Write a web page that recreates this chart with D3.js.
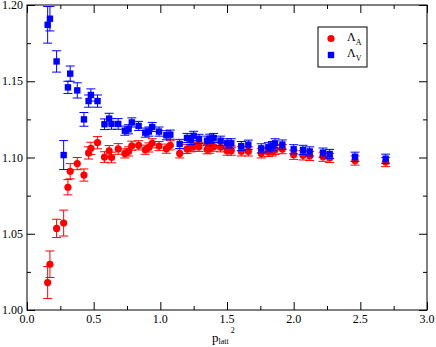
<!DOCTYPE html>
<html>
<head>
<meta charset="utf-8">
<script src="https://cdn.jsdelivr.net/npm/d3@7"></script>
<style>
  body { margin: 0; background: #fff; }
  svg { display: block; }
  text { font-family: "Liberation Serif", "DejaVu Serif", serif; fill: #000; }
</style>
</head>
<body>
<svg id="chart" width="436" height="347"></svg>
<script>
// p_latt^2 values (shared by both sets)
const p2 = [0.155, 0.172, 0.222, 0.275, 0.307, 0.324, 0.377, 0.427, 0.462, 0.479,
            0.529, 0.581, 0.616, 0.634, 0.684, 0.734, 0.762, 0.786, 0.837, 0.887,
            0.914, 0.939, 0.99, 1.045, 1.075, 1.145, 1.20, 1.228, 1.25, 1.29,
            1.35, 1.37, 1.40, 1.452, 1.50, 1.532, 1.607, 1.66, 1.757, 1.81,
            1.84, 1.86, 1.915, 2.0, 2.07, 2.12, 2.22, 2.27, 2.46, 2.69];

// Lambda_A (red circles)
const lambdaA = [1.018, 1.030, 1.0535, 1.057, 1.0805, 1.091, 1.096, 1.0885, 1.103, 1.106,
                 1.1097, 1.1003, 1.1043, 1.100, 1.1056, 1.1027, 1.104, 1.1077, 1.108, 1.1051,
                 1.1066, 1.1093, 1.1075, 1.1058, 1.108, 1.1027, 1.1056, 1.1067, 1.1071, 1.107,
                 1.1054, 1.1058, 1.1071, 1.1067, 1.1045, 1.1045, 1.104, 1.104, 1.1027, 1.1036,
                 1.104, 1.105, 1.1055, 1.1018, 1.1014, 1.101, 1.1005, 1.0997, 1.098, 1.097];
const errA = [0.0105, 0.0087, 0.006, 0.0085, 0.005, 0.005, 0.004, 0.004, 0.004, 0.004,
              0.004, 0.0035, 0.0035, 0.0035, 0.0035, 0.003, 0.003, 0.003, 0.003, 0.003,
              0.003, 0.003, 0.003, 0.003, 0.003, 0.003, 0.003, 0.003, 0.003, 0.003,
              0.003, 0.003, 0.003, 0.003, 0.003, 0.003, 0.003, 0.003, 0.003, 0.003,
              0.003, 0.003, 0.003, 0.003, 0.003, 0.003, 0.003, 0.003, 0.003, 0.003];

// Lambda_V (blue squares)
const lambdaV = [1.187, 1.191, 1.163, 1.1016, 1.146, 1.155, 1.144, 1.125, 1.137, 1.141,
                 1.137, 1.1218, 1.1255, 1.122, 1.122, 1.1176, 1.1185, 1.123, 1.1207, 1.1163,
                 1.117, 1.120, 1.117, 1.1146, 1.115, 1.1089, 1.1128, 1.1115, 1.1142, 1.1122,
                 1.111, 1.1123, 1.1128, 1.111, 1.1093, 1.1093, 1.1075, 1.1084, 1.106, 1.1067,
                 1.1075, 1.1093, 1.1085, 1.1054, 1.105, 1.104, 1.1032, 1.1023, 1.1005, 1.0992];
const errV = [0.012, 0.008, 0.007, 0.0095, 0.004, 0.005, 0.005, 0.0045, 0.004, 0.004,
              0.004, 0.0035, 0.0035, 0.0035, 0.0035, 0.003, 0.003, 0.003, 0.003, 0.003,
              0.003, 0.003, 0.003, 0.003, 0.003, 0.003, 0.003, 0.003, 0.003, 0.003,
              0.003, 0.003, 0.003, 0.003, 0.003, 0.003, 0.003, 0.003, 0.003, 0.003,
              0.003, 0.003, 0.003, 0.003, 0.003, 0.003, 0.003, 0.003, 0.003, 0.003];

const xMajor = [0, 0.5, 1.0, 1.5, 2.0, 2.5, 3.0];
const xMinor = [0.25, 0.75, 1.25, 1.75, 2.25, 2.75];
const yMajor = [1.00, 1.05, 1.10, 1.15, 1.20];
const yMinor = [1.025, 1.075, 1.125, 1.175];

const margins = { top: 5, right: 9, bottom: 37, left: 27 };
const totalWidth = 436, totalHeight = 347;
const innerWidth = totalWidth - margins.left - margins.right;
const innerHeight = totalHeight - margins.top - margins.bottom;

const svg = d3.select("#chart");
const xscale = d3.scaleLinear([0, 3], [margins.left, margins.left + innerWidth]);
const yscale = d3.scaleLinear([1.0, 1.2], [margins.top + innerHeight, margins.top]);

// axes: tick marks pointing inward on all four sides
function addAxis(axis, tx, ty) {
  const g = svg.append("g").attr("transform", `translate(${tx},${ty})`).call(axis);
  g.select(".domain").remove();
  g.selectAll("text").remove();
  return g;
}
const fmt = d3.format(".1f"), fmt2 = d3.format(".2f");
const bottom = margins.top + innerHeight, right = margins.left + innerWidth;

addAxis(d3.axisBottom(xscale).tickValues(xMajor).tickSize(-8), 0, bottom);
addAxis(d3.axisBottom(xscale).tickValues(xMinor).tickSize(-4), 0, bottom);
addAxis(d3.axisTop(xscale).tickValues(xMajor).tickSize(-8), 0, margins.top);
addAxis(d3.axisTop(xscale).tickValues(xMinor).tickSize(-4), 0, margins.top);
addAxis(d3.axisLeft(yscale).tickValues(yMajor).tickSize(-8), margins.left, 0);
addAxis(d3.axisLeft(yscale).tickValues(yMinor).tickSize(-4), margins.left, 0);
addAxis(d3.axisRight(yscale).tickValues(yMajor).tickSize(-8), right, 0);
addAxis(d3.axisRight(yscale).tickValues(yMinor).tickSize(-4), right, 0);

// tick labels
svg.append("g").selectAll("text").data(xMajor).enter().append("text")
  .attr("x", d => xscale(d)).attr("y", bottom + 13)
  .attr("text-anchor", "middle").style("font-size", "12px")
  .text(d => fmt(d));
svg.append("g").selectAll("text").data(yMajor).enter().append("text")
  .attr("x", margins.left - 4).attr("y", d => yscale(d) + 4)
  .attr("text-anchor", "end").style("font-size", "12px")
  .text(d => fmt2(d));

// frame
svg.append("rect")
  .attr("x", margins.left).attr("y", margins.top)
  .attr("width", innerWidth).attr("height", innerHeight)
  .attr("fill", "none").attr("stroke", "#000").attr("stroke-width", 1);

function errorBars(vals, errs, color) {
  const g = svg.append("g").attr("stroke", color).attr("stroke-width", 1);
  p2.forEach((x, i) => {
    const cx = xscale(x);
    const y0 = yscale(vals[i] - errs[i]), y1 = yscale(vals[i] + errs[i]);
    g.append("line").attr("x1", cx).attr("x2", cx).attr("y1", y0).attr("y2", y1);
    g.append("line").attr("x1", cx - 4.5).attr("x2", cx + 4.5).attr("y1", y0).attr("y2", y0);
    g.append("line").attr("x1", cx - 4.5).attr("x2", cx + 4.5).attr("y1", y1).attr("y2", y1);
  });
}

const rows = (vals) => p2.map((x, i) => ({ x: x, v: vals[i] }));

// Lambda_A
errorBars(lambdaA, errA, "#ff0000");
svg.selectAll(".dotA").data(rows(lambdaA)).enter()
  .append("circle").attr("class", "dotA")
  .attr("cx", d => xscale(d.x)).attr("cy", d => yscale(d.v))
  .attr("r", 3.6).attr("fill", "#ff0000");

// Lambda_V
errorBars(lambdaV, errV, "#0000ff");
svg.selectAll(".sqV").data(rows(lambdaV)).enter()
  .append("rect").attr("class", "sqV")
  .attr("x", d => xscale(d.x) - 3.2).attr("y", d => yscale(d.v) - 3.2)
  .attr("width", 6.4).attr("height", 6.4).attr("fill", "#0000ff");

// legend
const leg = svg.append("g");
leg.append("rect").attr("x", 318).attr("y", 27).attr("width", 49).attr("height", 40)
  .attr("fill", "#fff").attr("stroke", "#000").attr("stroke-width", 1);
leg.append("circle").attr("cx", 331).attr("cy", 38.5).attr("r", 3.6).attr("fill", "#ff0000");
leg.append("rect").attr("x", 327.8).attr("y", 51.8).attr("width", 6.4).attr("height", 6.4).attr("fill", "#0000ff");
[["A", 40.5], ["V", 57]].forEach(([s, yb]) => {
  const t = leg.append("text").attr("x", 347).attr("y", yb).style("font-size", "12px");
  t.append("tspan").text("Λ");
  t.append("tspan").attr("dy", 4).style("font-size", "8px").text(s);
});

// x label
const xl = svg.append("text").attr("x", 212).attr("y", 342).style("font-size", "13px");
xl.append("tspan").text("p");
xl.append("tspan").attr("dy", 2).style("font-size", "8px").text("latt");
xl.append("tspan").attr("dx", 2).attr("dy", -11).style("font-size", "8px").text("2");
</script>
</body>
</html>
